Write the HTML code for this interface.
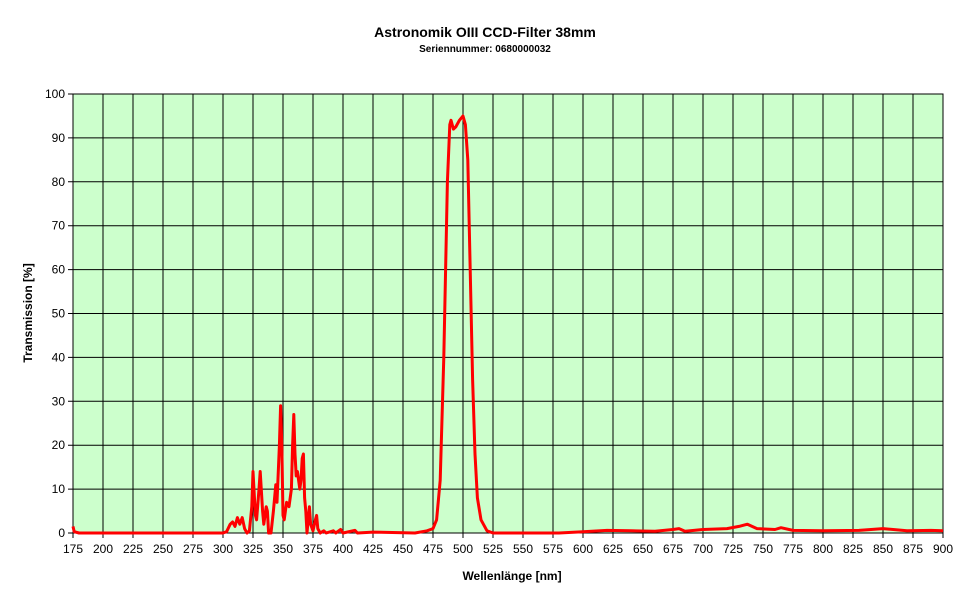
<!DOCTYPE html>
<html><head><meta charset="utf-8"><style>
body{margin:0;background:#fff;}
svg{display:block;font-family:"Liberation Sans",Arial,sans-serif;}
</style></head><body>
<svg id="chart" width="970" height="604">
<text x="485" y="37" text-anchor="middle" font-size="14" font-weight="bold">Astronomik OIII CCD-Filter 38mm</text>
<text x="485" y="52" text-anchor="middle" font-size="10" font-weight="bold">Seriennummer: 0680000032</text>
<rect x="73" y="94" width="870" height="439" fill="#ccffcc"/>
<g id="grid"></g>
<g id="xticks"></g>
<g id="yticks"></g>
<polyline id="series" fill="none" stroke="#ff0000" stroke-width="3" stroke-linejoin="round"/>
<text x="512" y="580" text-anchor="middle" font-size="12" font-weight="bold">Wellenlänge [nm]</text>
<text transform="translate(32,313) rotate(-90)" text-anchor="middle" font-size="12" font-weight="bold">Transmission [%]</text>
</svg>
<script>
const wavelengths=[175,176,180,300,303,306,308,310,312,314,316,318,320,322,324,325,327,328,330,331,333,334,336,337,338,340,342,344,345,347,348,349,350,351,353,355,357,358,359,360,361,362,364,365,366,367,368,369,370,371,372,373,375,377,378,379,381,384,386,392,394,398,400,410,412,425,460,470,475,478,481,484,487,489,490,492,494,497,500,502,504,506,508,510,512,515,520,525,580,600,620,640,660,675,680,685,700,720,730,737,745,760,765,775,800,830,850,870,890,900];
const transmission=[1.5,0.3,0,0,0.3,2,2.5,1.5,3.5,2,3.5,1,0,0.5,6,14,4,3,10,14,5,2,6,5,0,0,5,11,7,20,29,20,4,3,7,6,10,20,27,18,13,14,10,12,17,18,8,5,0,3,6,2,0.5,3,4,1,0,0.5,0,0.5,0,0.8,0,0.6,0,0.2,0,0.5,1,3,12,40,80,93,94,92,92.5,94,95,93,85,60,35,18,8,3,0.5,0,0,0.3,0.6,0.5,0.4,0.8,1,0.4,0.8,1,1.5,2,1,0.8,1.2,0.6,0.5,0.6,1,0.5,0.6,0.5];
const xTicks=[175,200,225,250,275,300,325,350,375,400,425,450,475,500,525,550,575,600,625,650,675,700,725,750,775,800,825,850,875,900];
const yTicks=[0,10,20,30,40,50,60,70,80,90,100];
const X0=73,X1=943,Y0=533,Y1=94;
const sx=v=>X0+(v-175)/(900-175)*(X1-X0);
const sy=v=>Y0-(v/100)*(Y0-Y1);
const NS="http://www.w3.org/2000/svg";
const grid=document.getElementById('grid'),xt=document.getElementById('xticks'),yt=document.getElementById('yticks');
for(const t of xTicks){
  const l=document.createElementNS(NS,'line');
  l.setAttribute('x1',sx(t));l.setAttribute('x2',sx(t));l.setAttribute('y1',Y1);l.setAttribute('y2',Y0+5);
  l.setAttribute('stroke','#000');l.setAttribute('stroke-width','1');
  
  
  grid.appendChild(l);
  const tx=document.createElementNS(NS,'text');
  tx.setAttribute('x',sx(t));tx.setAttribute('y',Y0+20);tx.setAttribute('text-anchor','middle');tx.setAttribute('font-size','12');
  tx.textContent=t;
  
  
  xt.appendChild(tx);
}
for(const t of yTicks){
  const l=document.createElementNS(NS,'line');
  l.setAttribute('x1',X0-5);l.setAttribute('x2',X1);l.setAttribute('y1',sy(t));l.setAttribute('y2',sy(t));
  l.setAttribute('stroke','#000');l.setAttribute('stroke-width','1');
  
  
  grid.appendChild(l);
  const tx=document.createElementNS(NS,'text');
  tx.setAttribute('x',X0-8);tx.setAttribute('y',sy(t)+4);tx.setAttribute('text-anchor','end');tx.setAttribute('font-size','12');
  tx.textContent=t;
  
  
  yt.appendChild(tx);
}
const border=document.createElementNS(NS,'rect');
border.setAttribute('x',X0);border.setAttribute('y',Y1);border.setAttribute('width',X1-X0);border.setAttribute('height',Y0-Y1);
border.setAttribute('fill','none');border.setAttribute('stroke','#000');


grid.appendChild(border);
document.getElementById('series').setAttribute('points',wavelengths.map((w,i)=>sx(w).toFixed(1)+','+sy(transmission[i]).toFixed(1)).join(' '));
</script>
</body></html>
